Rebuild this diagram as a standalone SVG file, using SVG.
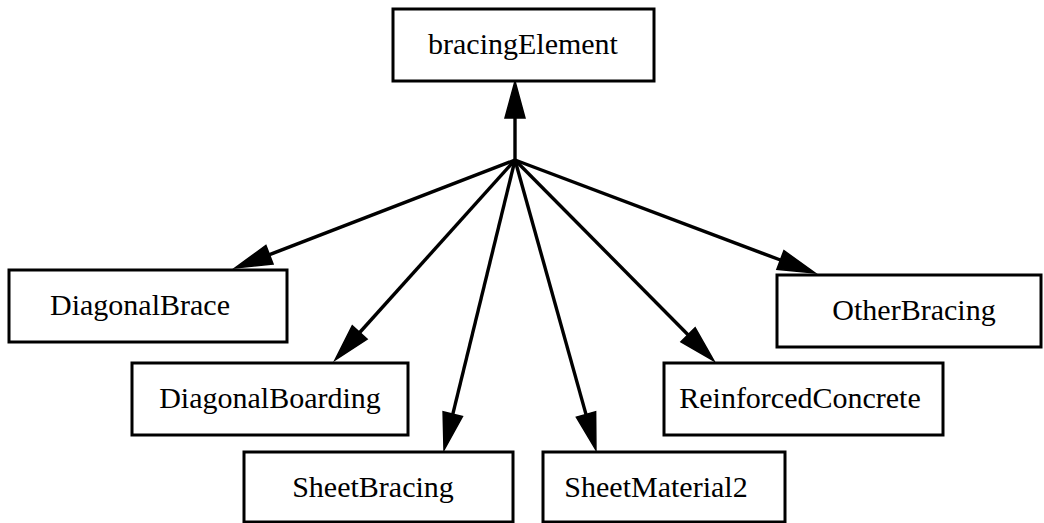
<svg xmlns="http://www.w3.org/2000/svg" width="1044" height="523" viewBox="0 0 1044 523">
<style>
.box{fill:#fff;stroke:#000;stroke-width:3}
.lbl{font-family:"Liberation Serif","Times New Roman",serif;font-size:30px;fill:#000;text-anchor:middle}
.edge{fill:none;stroke:#000;stroke-width:3.4}
</style>
<defs>
<marker id="arr" markerUnits="userSpaceOnUse" markerWidth="40" markerHeight="22" refX="0" refY="11" orient="auto" overflow="visible">
<path d="M0,1 L37,11 L0,21 z" fill="#000" stroke="#000" stroke-width="1.5"/>
</marker>
</defs>
<rect width="1044" height="523" fill="#fff"/>
<g id="connectors">
<path class="edge" d="M515,160 L515,118" marker-end="url(#arr)"/>
<path class="edge" d="M515,160 L269.5,254.7" marker-end="url(#arr)"/>
<path class="edge" d="M515,160 L359.7,332.5" marker-end="url(#arr)"/>
<path class="edge" d="M515,160 L452.8,414.1" marker-end="url(#arr)"/>
<path class="edge" d="M515,160 L586,414.4" marker-end="url(#arr)"/>
<path class="edge" d="M515,160 L688,334.7" marker-end="url(#arr)"/>
<path class="edge" d="M515,160 L780.4,260" marker-end="url(#arr)"/>
</g>
<g id="bracingElement">
<rect class="box" x="393" y="9" width="261" height="72"/>
<text class="lbl" x="523" y="54">bracingElement</text>
</g>
<g id="DiagonalBrace">
<rect class="box" x="9" y="270" width="278" height="72"/>
<text class="lbl" x="140" y="315">DiagonalBrace</text>
</g>
<g id="OtherBracing">
<rect class="box" x="777" y="275" width="264" height="72"/>
<text class="lbl" x="914" y="320">OtherBracing</text>
</g>
<g id="DiagonalBoarding">
<rect class="box" x="132" y="363" width="276" height="72"/>
<text class="lbl" x="270" y="408">DiagonalBoarding</text>
</g>
<g id="ReinforcedConcrete">
<rect class="box" x="664" y="363" width="279" height="72"/>
<text class="lbl" x="800" y="408">ReinforcedConcrete</text>
</g>
<g id="SheetBracing">
<rect class="box" x="244" y="452" width="269" height="70"/>
<text class="lbl" x="373" y="497">SheetBracing</text>
</g>
<g id="SheetMaterial2">
<rect class="box" x="543" y="452" width="242" height="70"/>
<text class="lbl" x="656" y="497">SheetMaterial2</text>
</g>
</svg>
